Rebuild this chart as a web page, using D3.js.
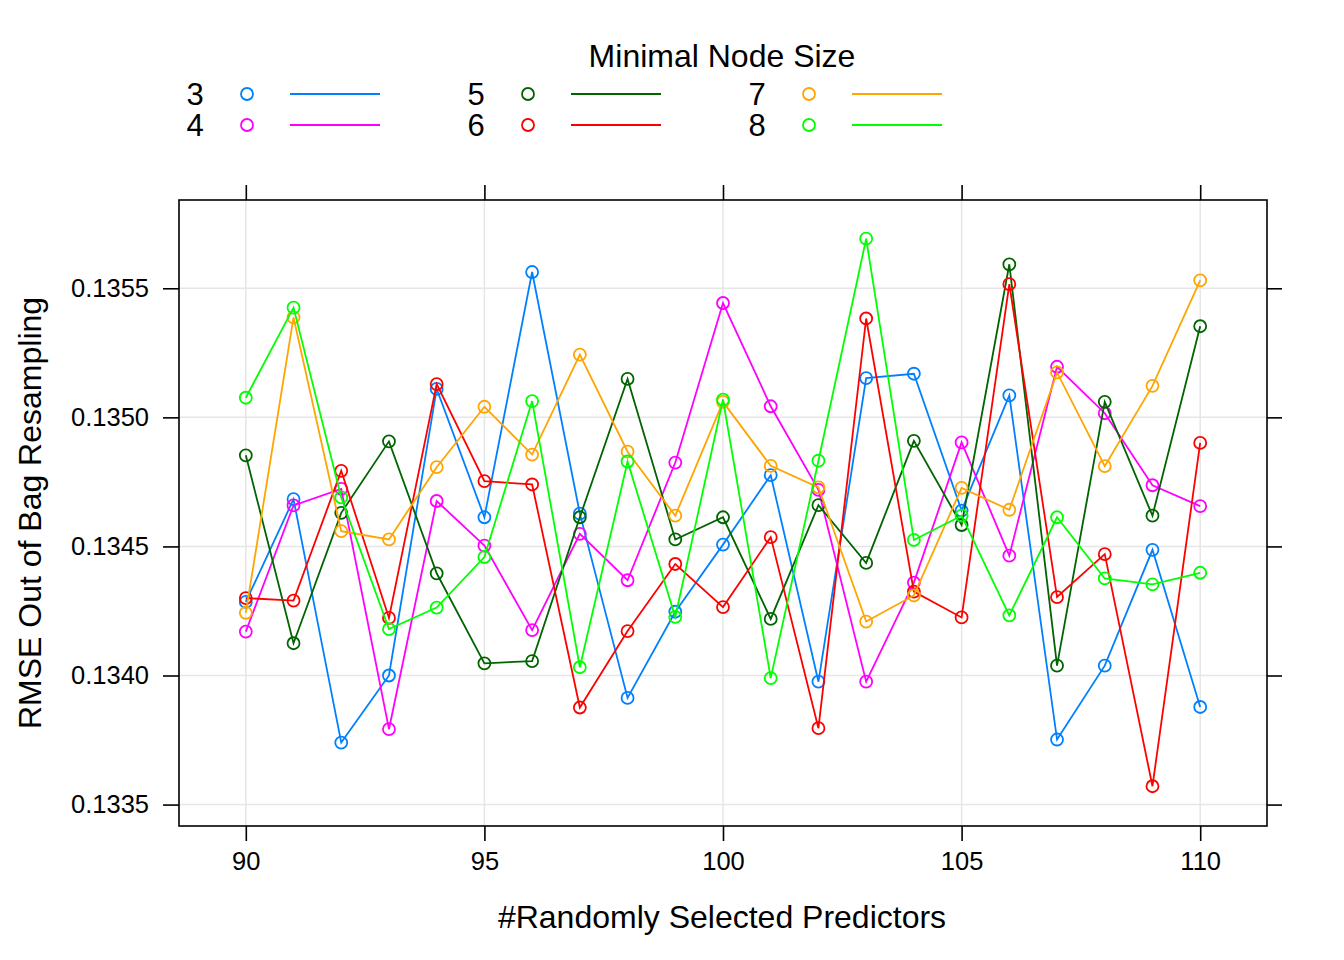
<!DOCTYPE html>
<html>
<head>
<meta charset="utf-8">
<script src="https://cdn.jsdelivr.net/npm/d3@7"></script>
<style>
  html, body { margin: 0; padding: 0; background: #fff; }
  svg { display: block; font-family: "Liberation Sans", Arial, Helvetica, sans-serif; }
</style>
</head>
<body>
<svg id="chart" width="1344" height="960"></svg>
<script>
const predictors = [90,91,92,93,94,95,96,97,98,99,100,101,102,103,104,105,106,107,108,109,110];
const nodeSizes = ["3","4","5","6","7","8"];
const colors = ["#0080ff","#ff00ff","#006400","#ff0000","#ffa500","#00ff00"];

const rmse3 = [0.134285,0.134683,0.133740,0.134000,0.135110,0.134613,0.135563,0.134627,0.133913,0.134247,0.134507,0.134776,0.133976,0.135152,0.135169,0.134639,0.135085,0.133752,0.134038,0.134487,0.133878];
const rmse4 = [0.134170,0.134659,0.134723,0.133792,0.134676,0.134503,0.134176,0.134549,0.134369,0.134825,0.135443,0.135043,0.134719,0.133976,0.134360,0.134903,0.134464,0.135196,0.135016,0.134737,0.134656];
const rmse5 = [0.134853,0.134125,0.134630,0.134907,0.134396,0.134047,0.134056,0.134613,0.135149,0.134527,0.134613,0.134219,0.134660,0.134436,0.134909,0.134583,0.135593,0.134038,0.135060,0.134619,0.135353];
const rmse6 = [0.134300,0.134290,0.134793,0.134223,0.135129,0.134753,0.134740,0.133876,0.134172,0.134432,0.134265,0.134536,0.133796,0.135383,0.134325,0.134225,0.135516,0.134304,0.134470,0.133571,0.134901];
const rmse7 = [0.134243,0.135387,0.134559,0.134527,0.134807,0.135041,0.134856,0.135243,0.134867,0.134619,0.135060,0.134812,0.134729,0.134209,0.134310,0.134727,0.134642,0.135174,0.134811,0.135122,0.135531];
const rmse8 = [0.135076,0.135425,0.134690,0.134180,0.134263,0.134459,0.135063,0.134032,0.134829,0.134227,0.135069,0.133990,0.134832,0.135692,0.134525,0.134619,0.134233,0.134613,0.134376,0.134353,0.134398];

const xTicks = [90,95,100,105,110];
const yTicks = [0.1335,0.1340,0.1345,0.1350,0.1355];

const seriesValues = [rmse3, rmse4, rmse5, rmse6, rmse7, rmse8];
const series = nodeSizes.map((k, i) => ({
  key: k, color: colors[i],
  values: predictors.map((p, j) => ({x: p, y: seriesValues[i][j]}))
}));

const svg = d3.select("#chart");
const L = 179, R = 1267, T = 200, B = 826;

const x = d3.scaleLinear().domain([88.6, 111.4]).range([L, R]);
const y = d3.scaleLinear().domain([0.133417, 0.135842]).range([B, T]);

// grid
const grid = svg.append("g");
grid.selectAll("line.gx").data(xTicks).join("line")
  .attr("x1", d => x(d)).attr("x2", d => x(d)).attr("y1", T).attr("y2", B)
  .attr("stroke", "#e6e6e6").attr("stroke-width", 1.5);
grid.selectAll("line.gy").data(yTicks).join("line")
  .attr("y1", d => y(d)).attr("y2", d => y(d)).attr("x1", L).attr("x2", R)
  .attr("stroke", "#e6e6e6").attr("stroke-width", 1.5);

// axes
const tickFont = "25.5px";
const axB = svg.append("g").attr("transform", `translate(0,${B})`)
  .call(d3.axisBottom(x).tickValues(xTicks).tickSize(15).tickPadding(11).tickFormat(d3.format("d")));
const axT = svg.append("g").attr("transform", `translate(0,${T})`)
  .call(d3.axisTop(x).tickValues(xTicks).tickSize(15).tickFormat(""));
const axL = svg.append("g").attr("transform", `translate(${L},0)`)
  .call(d3.axisLeft(y).tickValues(yTicks).tickSize(16).tickPadding(14).tickFormat(d3.format(".4f")));
const axR = svg.append("g").attr("transform", `translate(${R},0)`)
  .call(d3.axisRight(y).tickValues(yTicks).tickSize(15).tickFormat(""));
[axB, axT, axL, axR].forEach(a => {
  a.select(".domain").remove();
  a.selectAll(".tick line").attr("stroke", "#000").attr("stroke-width", 1.6);
  a.selectAll("text").attr("font-size", tickFont).attr("fill", "#000")
    .attr("font-family", "'Liberation Sans', Arial, sans-serif");
});

// box
svg.append("rect").attr("x", L).attr("y", T).attr("width", R - L).attr("height", B - T)
  .attr("fill", "none").attr("stroke", "#000").attr("stroke-width", 1.6);

// lines and points
const line = d3.line().x(d => x(d.x)).y(d => y(d.y));
const g = svg.append("g");
series.forEach(s => {
  g.append("path").datum(s.values).attr("d", line)
    .attr("fill", "none").attr("stroke", s.color).attr("stroke-width", 1.8);
  g.selectAll(null).data(s.values).join("circle")
    .attr("cx", d => x(d.x)).attr("cy", d => y(d.y)).attr("r", 6)
    .attr("fill", "none").attr("stroke", s.color).attr("stroke-width", 1.8);
});

// axis titles
svg.append("text").attr("x", 722).attr("y", 928)
  .attr("text-anchor", "middle").attr("font-size", "32px").text("#Randomly Selected Predictors");
svg.append("text").attr("transform", `translate(41,${(T + B) / 2}) rotate(-90)`)
  .attr("text-anchor", "middle").attr("font-size", "32px").text("RMSE Out of Bag Resampling");

// legend
const leg = svg.append("g");
leg.append("text").attr("x", 722).attr("y", 67).attr("text-anchor", "middle")
  .attr("font-size", "32px").text("Minimal Node Size");
const colX = [195, 476, 757];
const rowY = [94, 125];
series.forEach((s, i) => {
  const c = Math.floor(i / 2), r = i % 2;
  const cx = colX[c], cy = rowY[r];
  leg.append("text").attr("x", cx).attr("y", cy + 11).attr("text-anchor", "middle")
    .attr("font-size", "31px").text(s.key);
  leg.append("circle").attr("cx", cx + 52).attr("cy", cy).attr("r", 6)
    .attr("fill", "none").attr("stroke", s.color).attr("stroke-width", 1.8);
  leg.append("line").attr("x1", cx + 95).attr("x2", cx + 185).attr("y1", cy).attr("y2", cy)
    .attr("stroke", s.color).attr("stroke-width", 1.8);
});
</script>
</body>
</html>
